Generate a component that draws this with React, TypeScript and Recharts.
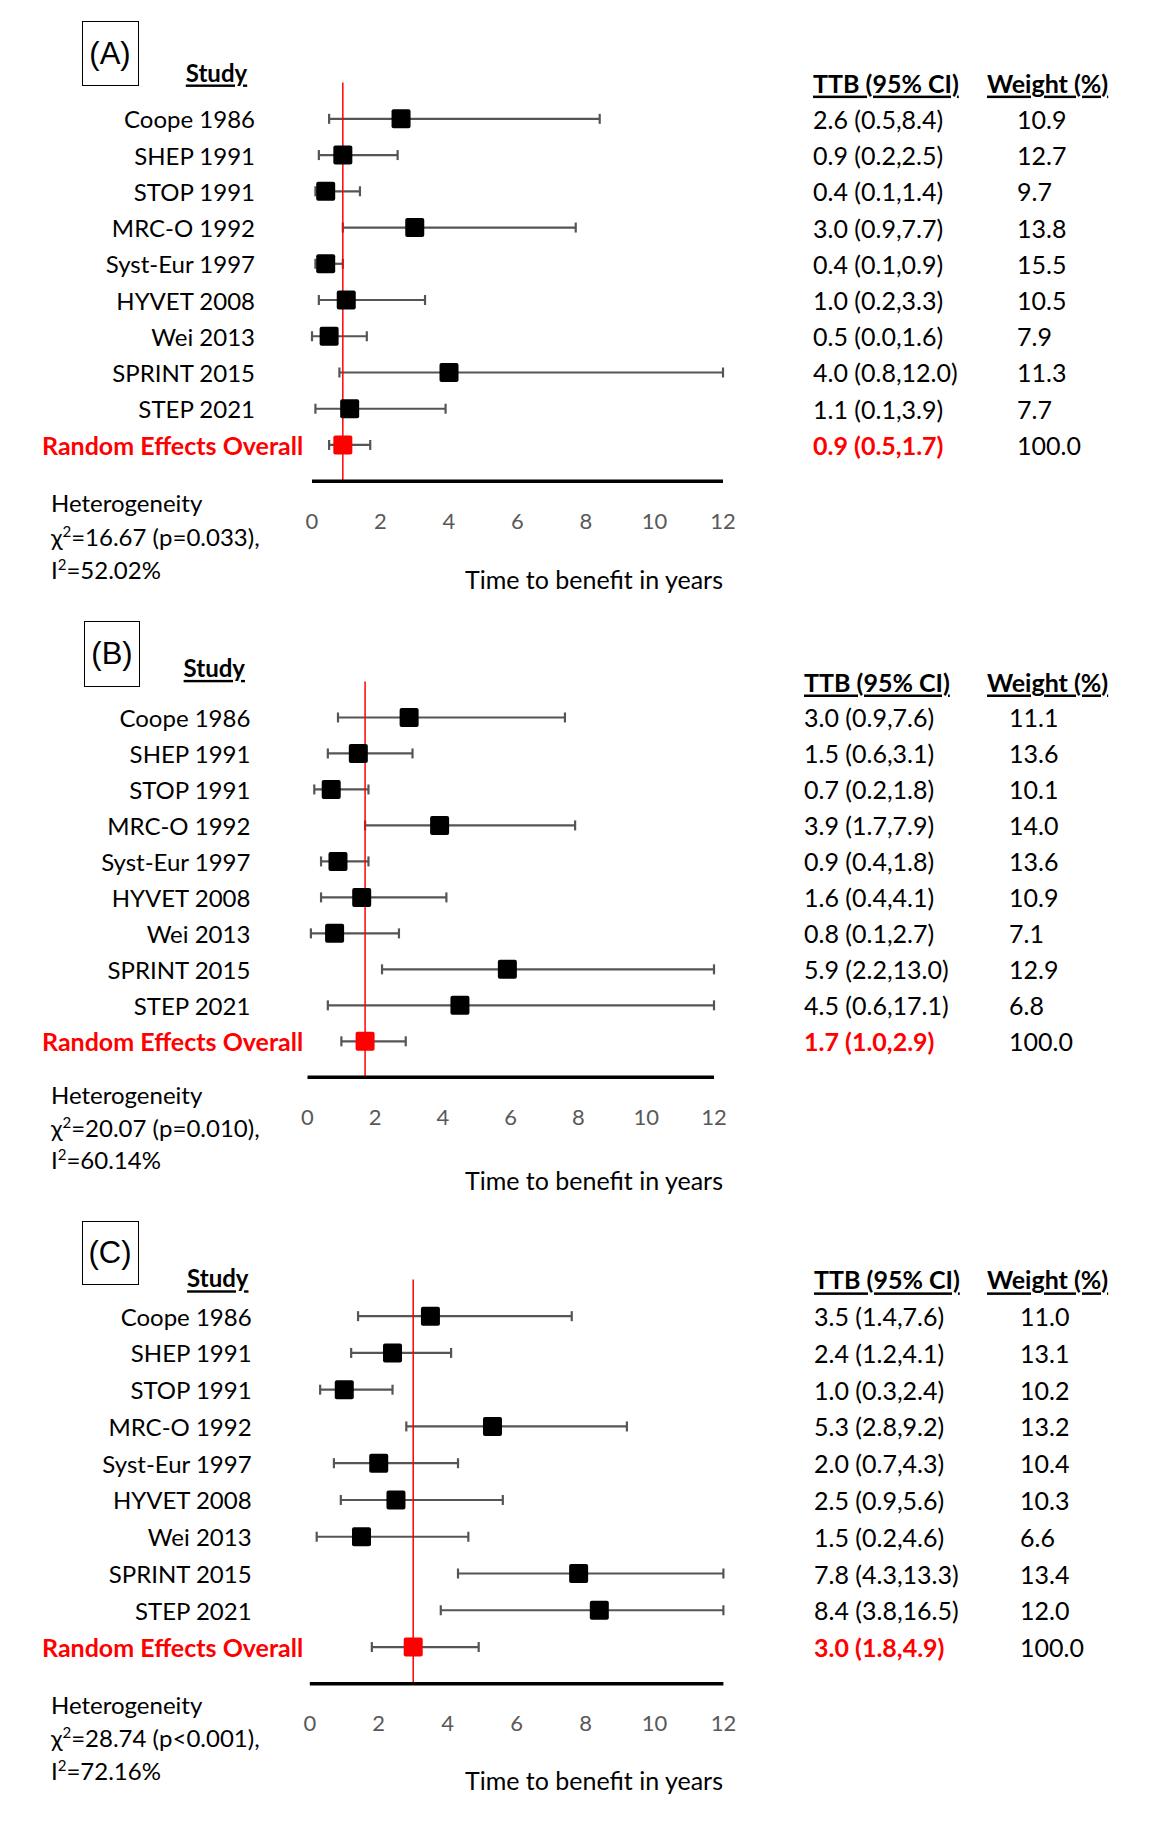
import React from 'react';
import { ScatterChart, Scatter, XAxis, YAxis, ErrorBar, ReferenceLine } from 'recharts';

// rows shared by all three panels
const studies = [
  'Coope 1986', 'SHEP 1991', 'STOP 1991', 'MRC-O 1992', 'Syst-Eur 1997',
  'HYVET 2008', 'Wei 2013', 'SPRINT 2015', 'STEP 2021', 'Random Effects Overall',
];
const xTicks = [0, 2, 4, 6, 8, 10, 12];

// (A)
const ttbA = [2.6, 0.9, 0.4, 3.0, 0.4, 1.0, 0.5, 4.0, 1.1, 0.9];
const loA = [0.5, 0.2, 0.1, 0.9, 0.1, 0.2, 0.0, 0.8, 0.1, 0.5];
const hiA = [8.4, 2.5, 1.4, 7.7, 0.9, 3.3, 1.6, 12.0, 3.9, 1.7];
const weightA = [10.9, 12.7, 9.7, 13.8, 15.5, 10.5, 7.9, 11.3, 7.7, 100.0];
const hetA = ['16.67', 'p=0.033', '52.02%'];

// (B)
const ttbB = [3.0, 1.5, 0.7, 3.9, 0.9, 1.6, 0.8, 5.9, 4.5, 1.7];
const loB = [0.9, 0.6, 0.2, 1.7, 0.4, 0.4, 0.1, 2.2, 0.6, 1.0];
const hiB = [7.6, 3.1, 1.8, 7.9, 1.8, 4.1, 2.7, 13.0, 17.1, 2.9];
const weightB = [11.1, 13.6, 10.1, 14.0, 13.6, 10.9, 7.1, 12.9, 6.8, 100.0];
const hetB = ['20.07', 'p=0.010', '60.14%'];

// (C)
const ttbC = [3.5, 2.4, 1.0, 5.3, 2.0, 2.5, 1.5, 7.8, 8.4, 3.0];
const loC = [1.4, 1.2, 0.3, 2.8, 0.7, 0.9, 0.2, 4.3, 3.8, 1.8];
const hiC = [7.6, 4.1, 2.4, 9.2, 4.3, 5.6, 4.6, 13.3, 16.5, 4.9];
const weightC = [11.0, 13.1, 10.2, 13.2, 10.4, 10.3, 6.6, 13.4, 12.0, 100.0];
const hetC = ['28.74', 'p<0.001', '72.16%'];

const FONT = 'Lato, "Open Sans", sans-serif';
const FS = 24;
const FS_RIGHT = 25;
const RED = '#FF0000';
const XH = 60;

const panels = [
  {
    tag: 'A', top: 0, height: 610, plotLeft: 312, plotRight: 723, plotTop: 82.6, plotBottom: 481.2,
    labelRight: 255, studyCx: 216.5, studyY: 72, ttbX: 813, weightHeadX: 987, weightX: 1017,
    hetX: 51, hetY: [503, 537, 570], titleY: 579, box: { x: 81.5, y: 21, w: 57, h: 65 },
    ttb: ttbA, lo: loA, hi: hiA, weight: weightA, het: hetA,
  },
  {
    tag: 'B', top: 610, height: 600, plotLeft: 307.5, plotRight: 714, plotTop: 681.5, plotBottom: 1077.3,
    labelRight: 250.4, studyCx: 214.3, studyY: 667.4, ttbX: 804, weightHeadX: 987, weightX: 1009,
    hetX: 51, hetY: [1095, 1127.5, 1160], titleY: 1180, box: { x: 84, y: 621, w: 56, h: 66 },
    ttb: ttbB, lo: loB, hi: hiB, weight: weightB, het: hetB,
  },
  {
    tag: 'C', top: 1210, height: 616, plotLeft: 309.8, plotRight: 723.4, plotTop: 1279.4, plotBottom: 1683.8,
    labelRight: 251.6, studyCx: 217.8, studyY: 1277.8, ttbX: 814, weightHeadX: 987, weightX: 1020,
    hetX: 51, hetY: [1705, 1738, 1770.5], titleY: 1780, box: { x: 81.5, y: 1221, w: 57, h: 64 },
    ttb: ttbC, lo: loC, hi: hiC, weight: weightC, het: hetC,
  },
];

type Cfg = (typeof panels)[number];

function Line({ x, y, children, style }: any) {
  return (
    <div
      style={{
        position: 'absolute', left: x, top: y - 16, height: 32, lineHeight: '32px',
        whiteSpace: 'nowrap', fontFamily: FONT, fontSize: FS, color: '#000', ...style,
      }}
    >
      {children}
    </div>
  );
}

function ForestPanel({ cfg }: { cfg: Cfg }) {
  const rows = studies.map((s, i) => ({
    row: i,
    ttb: cfg.ttb[i],
    err: [cfg.ttb[i] - cfg.lo[i], Math.min(cfg.hi[i], 12) - cfg.ttb[i]],
  }));
  const overall = cfg.ttb[cfg.ttb.length - 1];
  const top = cfg.top;
  const margin = {
    top: cfg.plotTop - top,
    bottom: cfg.height - (cfg.plotBottom - top) - XH,
    left: 0,
    right: 1152 - cfg.plotRight,
  };

  // one tick per row: study name on the left, TTB (95% CI) and weight on the right
  const RowTick = (p: any) => {
    const i = p.payload.value;
    if (i === -1) {
      return (
        <g fontFamily={FONT} fontWeight="bold" fill="#000" style={{ textDecoration: 'underline' }}>
          <text x={cfg.studyCx} y={cfg.studyY - top} textAnchor="middle" dominantBaseline="central" fontSize={FS}>Study</text>
          <text x={cfg.ttbX} y={p.y} dominantBaseline="central" fontSize={FS_RIGHT}>TTB (95% CI)</text>
          <text x={cfg.weightHeadX} y={p.y} dominantBaseline="central" fontSize={FS_RIGHT}>Weight (%)</text>
        </g>
      );
    }
    const last = i === studies.length - 1;
    const ci = `${cfg.ttb[i].toFixed(1)} (${cfg.lo[i].toFixed(1)},${cfg.hi[i].toFixed(1)})`;
    return (
      <g fontFamily={FONT}>
        {last ? (
          <text x={42} y={p.y} dominantBaseline="central" fontSize={25} fontWeight="bold" fill={RED}>
            {studies[i]}
          </text>
        ) : (
          <text x={cfg.labelRight} y={p.y} textAnchor="end" dominantBaseline="central" fontSize={FS} fill="#000">
            {studies[i]}
          </text>
        )}
        <text x={cfg.ttbX} y={p.y} dominantBaseline="central" fontSize={FS_RIGHT}
          fill={last ? RED : '#000'} fontWeight={last ? 'bold' : 'normal'}>
          {ci}
        </text>
        <text x={cfg.weightX} y={p.y} dominantBaseline="central" fontSize={FS_RIGHT} fill="#000">
          {cfg.weight[i].toFixed(1)}
        </text>
      </g>
    );
  };

  const XTick = (p: any) => (
    <text x={p.x} y={p.y + 37} textAnchor="middle" dominantBaseline="central" fontFamily={FONT} fontSize={22} fill="#595959">
      {p.payload.value}
    </text>
  );

  const Square = (p: any) => (
    <rect x={p.cx - 9.5} y={p.cy - 9.5} width={19} height={19} rx={2}
      fill={p.payload.row === studies.length - 1 ? RED : '#000'} />
  );

  const yTicks = [-1, 0, 1, 2, 3, 4, 5, 6, 7, 8, 9];

  return (
    <div style={{ position: 'absolute', left: 0, top, width: 1152, height: cfg.height }}>
      <ScatterChart width={1152} height={cfg.height} margin={margin}>
        <XAxis type="number" dataKey="ttb" domain={[0, 12]} ticks={xTicks} allowDataOverflow interval={0}
          axisLine={{ stroke: '#000', strokeWidth: 3.5 }} tickLine={false} tickSize={0} tick={XTick} height={XH} />
        <YAxis type="number" dataKey="row" domain={[-1, 10]} reversed ticks={yTicks} interval={0}
          width={cfg.plotLeft} axisLine={false} tickLine={false} tick={RowTick} />
        <Scatter data={rows} shape={Square} isAnimationActive={false}>
          <ErrorBar dataKey="err" direction="x" width={5} stroke="#555" strokeWidth={2.2} isAnimationActive={false} />
        </Scatter>
        <ReferenceLine x={overall} stroke={RED} strokeWidth={1.5} />
      </ScatterChart>

      <div style={{
        position: 'absolute', left: cfg.box.x, top: cfg.box.y - top, width: cfg.box.w, height: cfg.box.h,
        border: '1.5px solid #000', boxSizing: 'border-box', display: 'flex', alignItems: 'center',
        justifyContent: 'center', fontFamily: '"Liberation Sans", Arial, sans-serif', fontSize: 31, color: '#000',
      }}>
        ({cfg.tag})
      </div>

      <Line x={cfg.hetX} y={cfg.hetY[0] - top}>Heterogeneity</Line>
      <Line x={cfg.hetX} y={cfg.hetY[1] - top}>
        χ<sup style={{ fontSize: 15, lineHeight: 0 }}>2</sup>={cfg.het[0]} ({cfg.het[1]}),
      </Line>
      <Line x={cfg.hetX} y={cfg.hetY[2] - top}>
        I<sup style={{ fontSize: 15, lineHeight: 0 }}>2</sup>={cfg.het[2]}
      </Line>
      <Line x={465} y={cfg.titleY - top} style={{ fontSize: 25 }}>Time to benefit in years</Line>
    </div>
  );
}

export default function App() {
  return (
    <div style={{ position: 'absolute', left: 0, top: 0, width: 1152, height: 1826, background: '#fff' }}>
      {panels.map((cfg) => (
        <ForestPanel key={cfg.tag} cfg={cfg} />
      ))}
    </div>
  );
}
